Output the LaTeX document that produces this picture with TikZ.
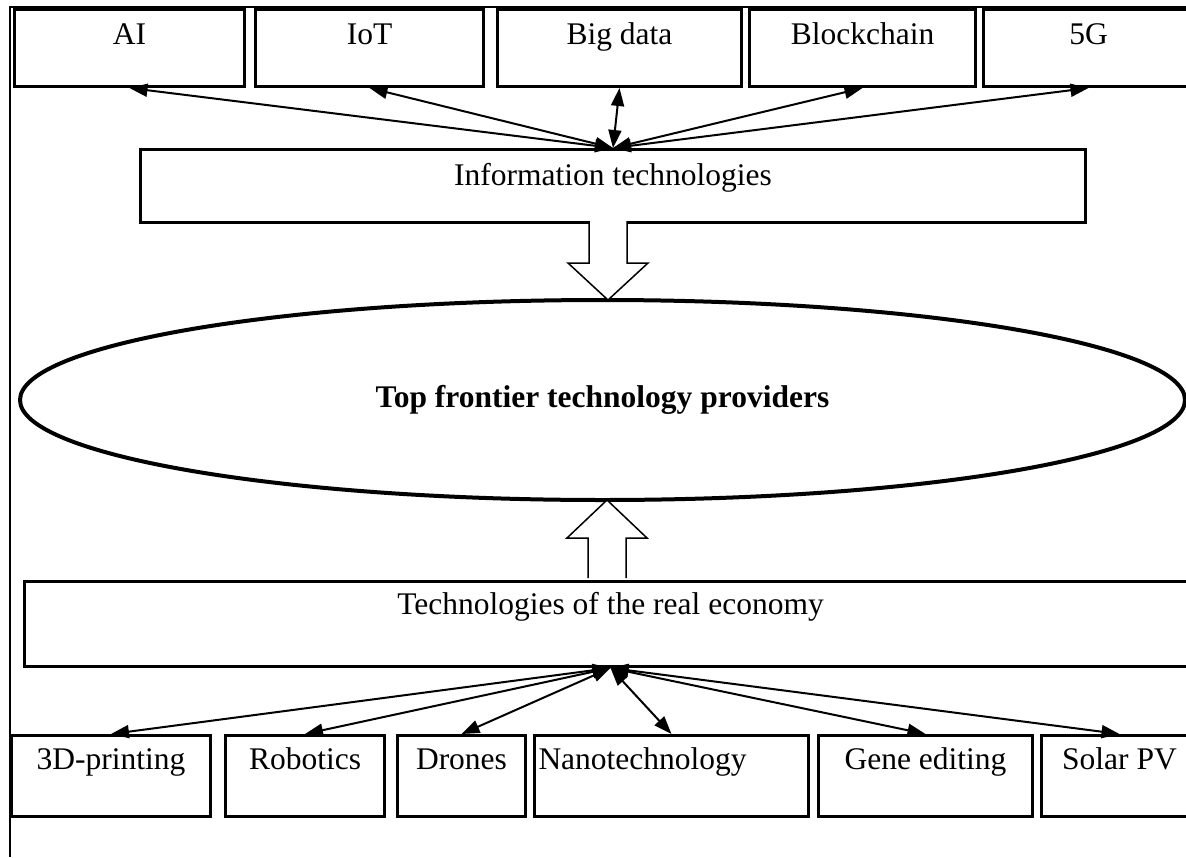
\documentclass[tikz,border=0pt]{standalone}
\usepackage{fontspec}
\setmainfont{Liberation Serif}
\usetikzlibrary{shapes.geometric, arrows.meta}
\newcommand{\HSHAFT}{19}
\newcommand{\HHEAD}{40}
\newcommand{\fatarrow}[4]{\filldraw[fatarr] (#1-\HSHAFT,#2) -- (#1-\HSHAFT,#3) -- (#1-\HHEAD,#3) -- (#1,#4) -- (#1+\HHEAD,#3) -- (#1+\HSHAFT,#3) -- (#1+\HSHAFT,#2);}
\tikzset{
  box/.style={draw, line width=3pt, inner sep=0pt, anchor=north west, font=\fontsize{31.5pt}{36pt}\selectfont},
  toprow/.style={box, text height=35pt, text depth=42pt},
  botrow/.style={box, text height=34pt, text depth=47pt},
  link/.style={{Triangle[length=18pt,width=13pt]}-{Triangle[length=18pt,width=13pt]}, line width=2pt},
  fatarr/.style={fill=white, draw=black, line width=1.5pt, line join=miter},
  frame/.style={line width=1.5pt}
}
\begin{document}
\begin{tikzpicture}[x=1pt, y=-1pt]
  \useasboundingbox (0,0) rectangle (1186,857);
  \clip (0,0) rectangle (1186,857);
  % \draw[frame] (0,0) rectangle (1186,857);

  \draw[frame] (10,857) -- (10,7) -- (1186,7);

  % information technologies
  \node[toprow, minimum width=230pt] (ai) at (13,8) {AI};
  \node[toprow, minimum width=228pt] (iot) at (254,8) {IoT};
  \node[toprow, minimum width=244pt] (big) at (496,8) {Big data};
  \node[toprow, minimum width=226pt] (block) at (748,8) {Blockchain};
  \node[toprow, minimum width=210pt] (fiveg) at (982,8) {5G};
  \node[box, minimum width=945pt, text height=36pt, text depth=37pt] (info) at (139,148) {Information technologies};
  \foreach \t in {ai, iot, big, block, fiveg}
    \draw[link] (info.north) -- (\t.south);

  \node[draw, ellipse, line width=4pt, minimum width=1165pt, minimum height=200pt, font=\fontsize{31.5pt}{36pt}\selectfont\bfseries] (prov) at (602.5,400) {Top frontier technology providers\hspace{22pt}};

  % technologies of the real economy
  \node[box, minimum width=1172pt, text height=33pt, text depth=52pt] (real) at (23,580) {Technologies of the real economy};
  \node[botrow, minimum width=199pt] (printing) at (10,734) {3D-printing};
  \node[botrow, minimum width=159pt] (robot) at (224,734) {Robotics};
  \node[botrow, minimum width=128pt] (drone) at (396,734) {Drones};
  \node[botrow, inner xsep=4pt, text width=266pt, align=left] (nano) at (533,734) {Nanotechnology};
  \node[botrow, minimum width=214pt] (gene) at (817,734) {Gene editing};
  \node[botrow, minimum width=156pt] (solar) at (1040,734) {Solar PV};
  \foreach \t in {printing, robot, drone, nano, gene, solar}
    \draw[link] (real.south) -- (\t.north);

  \fatarrow{608}{221}{263}{300}
  \fatarrow{607}{578}{538}{500}
\end{tikzpicture}
\end{document}
